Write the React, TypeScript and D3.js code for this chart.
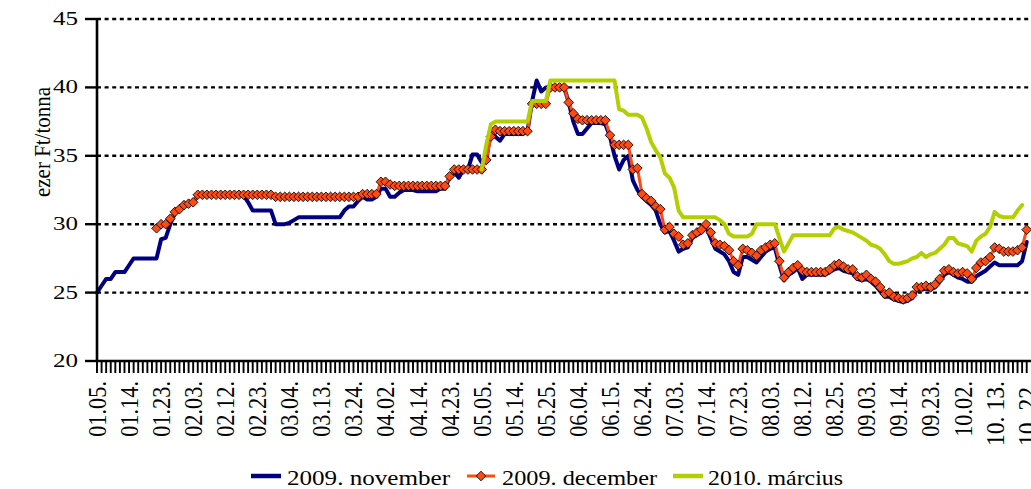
import React from "react";
import * as d3 from "d3";

// Trading-day series (index 0 = 01.05.), values in ezer Ft/tonna
const novValues: number[] = [
  25.0, 25.5, 26.0, 26.0, 26.5, 26.5, 26.5, 27.0, 27.5, 27.5,
  27.5, 27.5, 27.5, 27.5, 28.9, 29.0, 30.0, 30.8, 31.1, 31.4,
  31.5, 31.6, 32.1, 32.1, 32.1, 32.1, 32.1, 32.1, 32.1, 32.1,
  32.1, 32.1, 32.1, 31.6, 31.0, 31.0, 31.0, 31.0, 31.0, 30.0,
  30.0, 30.0, 30.1, 30.3, 30.5, 30.5, 30.5, 30.5, 30.5, 30.5,
  30.5, 30.5, 30.5, 30.5, 31.0, 31.3, 31.3, 31.7, 32.0, 31.8,
  31.8, 32.0, 32.6, 32.6, 32.0, 32.0, 32.3, 32.5, 32.5, 32.5,
  32.4, 32.4, 32.4, 32.4, 32.4, 32.6, 32.6, 33.5, 33.8, 33.4,
  34.0, 34.0, 35.1, 35.1, 34.5, 34.6, 37.0, 36.4, 36.1, 36.6,
  36.6, 36.6, 36.6, 36.6, 36.8, 39.0, 40.5, 39.7, 40.0, 40.0,
  40.0, 40.0, 40.0, 38.9, 37.5, 36.6, 36.6, 37.0, 37.4, 37.4,
  37.4, 37.3, 36.4, 35.0, 34.0, 34.7, 35.0, 33.2, 32.5, 32.0,
  31.7, 31.4, 31.0, 30.0, 29.4, 29.5, 28.8, 28.0, 28.2, 28.3,
  29.0, 29.2, 29.4, 29.8, 29.0, 28.2, 28.0, 27.8, 27.3, 26.5,
  26.3, 27.6, 27.6, 27.4, 27.2, 27.6, 28.0, 28.2, 28.3, 27.0,
  25.9, 26.3, 26.5, 26.8, 26.0, 26.3, 26.3, 26.3, 26.3, 26.3,
  26.5, 26.7, 26.8, 26.6, 26.5, 26.4, 26.0, 25.9, 26.0, 25.8,
  25.5, 25.1, 24.7, 24.7, 24.5, 24.4, 24.3, 24.4, 24.6, 25.2,
  25.2, 25.3, 25.2, 25.4, 25.8, 26.3, 26.5, 26.3, 26.1, 26.0,
  25.8, 25.8, 26.2, 26.4, 26.6, 26.9, 27.2, 27.0, 27.0, 27.0,
  27.0, 27.0, 27.3, 28.7,
];

const decStart = 13;
const decValues: number[] = [
  29.7, 30.0, 30.0, 30.4, 30.9, 31.1, 31.4,
  31.5, 31.6, 32.15, 32.15, 32.15, 32.15, 32.15, 32.15, 32.15, 32.15,
  32.15, 32.15, 32.15, 32.15, 32.15, 32.15, 32.15, 32.15, 32.15, 32.0,
  32.0, 32.0, 32.0, 32.0, 32.0, 32.0, 32.0, 32.0, 32.0, 32.0,
  32.0, 32.0, 32.0, 32.0, 32.0, 32.0, 32.0, 32.0, 32.2, 32.2,
  32.2, 32.2, 33.1, 33.1, 32.9, 32.8, 32.8, 32.8, 32.8, 32.8,
  32.8, 32.8, 32.8, 32.8, 32.8, 32.8, 32.8, 33.5, 34.0, 34.0,
  34.0, 34.0, 34.0, 34.0, 34.0, 34.7, 36.4, 36.9, 36.8, 36.8,
  36.8, 36.8, 36.8, 36.8, 36.8, 38.8, 38.8, 38.8, 38.8, 40.0,
  40.0, 40.0, 40.0, 38.9, 38.1, 37.7, 37.6, 37.6, 37.6, 37.6,
  37.6, 37.6, 36.5, 35.8, 35.8, 35.8, 35.8, 34.0, 34.1, 32.2,
  31.9, 31.7, 31.3, 31.1, 29.6, 29.8, 29.3, 29.1, 28.5, 28.6,
  29.2, 29.4, 29.6, 30.0, 29.4, 28.6, 28.5, 28.4, 28.1, 27.3,
  27.0, 28.2, 28.1, 27.9, 27.7, 28.1, 28.3, 28.5, 28.6, 27.3,
  26.1, 26.5, 26.8, 27.0, 26.6, 26.5, 26.5, 26.5, 26.5, 26.5,
  26.7, 27.0, 27.1, 26.9, 26.7, 26.7, 26.2, 26.1, 26.3, 26.0,
  25.8, 25.4, 24.9, 25.0, 24.7, 24.6, 24.5, 24.6, 24.8, 25.4,
  25.4, 25.5, 25.4, 25.6, 26.0, 26.6, 26.7, 26.5, 26.4, 26.5,
  26.4, 26.0, 26.8, 27.2, 27.3, 27.6, 28.3, 28.2, 28.0, 28.0,
  28.0, 28.1, 28.3, 29.6,
];

const marStart = 84;
const marValues: number[] = [
  34.0, 35.8, 37.3, 37.5, 37.5, 37.5,
  37.5, 37.5, 37.5, 37.5, 37.5, 39.0, 39.0, 39.0, 39.0, 40.5,
  40.5, 40.5, 40.5, 40.5, 40.5, 40.5, 40.5, 40.5, 40.5, 40.5,
  40.5, 40.5, 40.5, 40.5, 38.4, 38.3, 38.0, 38.0, 38.0, 37.8,
  37.0, 36.0, 35.4, 34.9, 33.7, 33.4, 32.7, 31.0, 30.5, 30.5,
  30.5, 30.5, 30.5, 30.5, 30.5, 30.5, 30.3, 30.0, 29.3, 29.1,
  29.1, 29.1, 29.1, 29.3, 30.0, 30.0, 30.0, 30.0, 30.0, 29.0,
  28.0, 28.6, 29.2, 29.2, 29.2, 29.2, 29.2, 29.2, 29.2, 29.2,
  29.2, 29.7, 29.8, 29.6, 29.5, 29.4, 29.2, 29.0, 28.8, 28.5,
  28.4, 28.2, 27.8, 27.3, 27.1, 27.1, 27.2, 27.3, 27.5, 27.6,
  27.9, 27.6, 27.8, 27.9, 28.2, 28.5, 29.0, 29.0, 28.6, 28.5,
  28.4, 28.0, 28.8, 29.1, 29.3, 29.8, 30.9, 30.6, 30.5, 30.5,
  30.5, 31.0, 31.4,
];

const tickLabels: string[] = [
  "01.05.", "01.14.", "01.23.", "02.03.", "02.12.", "02.23.", "03.04.", "03.13.",
  "03.24.", "04.02.", "04.14.", "04.23.", "05.05.", "05.14.", "05.25.", "06.04.",
  "06.15.", "06.24.", "07.03.", "07.14.", "07.23.", "08.03.", "08.12.", "08.25.",
  "09.03.", "09.14.", "09.23.", "10.02.", "10. 13.", "10. 22.",
];
const labelStep = 7;
const yTicks: number[] = [20, 25, 30, 35, 40, 45];
const gridValues: number[] = [25, 30, 35, 40, 45];

const seriesNames = ["2009. november", "2009. december", "2010. március"];
const seriesColors = ["#000080", "#ff4a12", "#b3cf00"];

type Pt = { i: number; v: number };

export default function App() {
  const W = 1031;
  const H = 489;
  const left = 97;
  const right = 1031;
  const top = 19;
  const bottom = 361;
  const nPts = novValues.length;

  const x = d3.scaleLinear().domain([0, nPts - 1]).range([left, 1026.7]);
  const y = d3.scaleLinear().domain([20, 45]).range([bottom, top]);

  const nov: Pt[] = novValues.map((v, i) => ({ i, v }));
  const dec: Pt[] = decValues.map((v, k) => ({ i: k + decStart, v }));
  const mar: Pt[] = marValues.map((v, k) => ({ i: k + marStart, v }));

  const line = d3
    .line<Pt>()
    .x((d) => x(d.i))
    .y((d) => y(d.v));

  const diamond = d3.symbol(d3.symbolSquare, 6.8 * 6.8)() as string;
  const font = "'Liberation Serif', 'Times New Roman', Times, serif";

  const catTicks = d3.range(nPts);

  return (
    <svg
      width={W}
      height={H}
      style={{ position: "absolute", left: 0, top: 0, background: "#fff", fontFamily: font }}
    >
      <rect x={0} y={0} width={W} height={H} fill="#fff" />
      {/* grid lines */}
      {gridValues.map((g) => (
        <line
          key={"g" + g}
          x1={left}
          x2={right}
          y1={y(g)}
          y2={y(g)}
          stroke="#000"
          strokeWidth={2.4}
          strokeDasharray="4 3.6"
        />
      ))}
      {/* series */}
      <path d={line(nov) || ""} fill="none" stroke={seriesColors[0]} strokeWidth={4} strokeLinejoin="round" strokeLinecap="round" />
      <path d={line(dec) || ""} fill="none" stroke={seriesColors[1]} strokeWidth={3} strokeLinejoin="round" strokeLinecap="round" />
      {dec.map((d) => (
        <path
          key={"m" + d.i}
          d={diamond}
          transform={`translate(${x(d.i)},${y(d.v)}) rotate(45)`}
          fill={seriesColors[1]}
          stroke="#000"
          strokeWidth={0.8}
        />
      ))}
      <path d={line(mar) || ""} fill="none" stroke={seriesColors[2]} strokeWidth={4} strokeLinejoin="round" strokeLinecap="round" />

      {/* axes */}
      <line x1={left} x2={left} y1={top} y2={bottom + 1} stroke="#000" strokeWidth={2.6} />
      <line x1={left - 1} x2={right} y1={bottom} y2={bottom} stroke="#000" strokeWidth={2.6} />
      {yTicks.map((t) => (
        <g key={"yt" + t}>
          <line x1={85} x2={left} y1={y(t)} y2={y(t)} stroke="#000" strokeWidth={2.4} />
          <text
            x={78}
            y={y(t)}
            textAnchor="end"
            dominantBaseline="central"
            fontSize={18}
            textLength={25}
            lengthAdjust="spacingAndGlyphs"
            fill="#000"
          >
            {t}
          </text>
        </g>
      ))}
      {catTicks.map((i) => (
        <line
          key={"xt" + i}
          x1={x(i)}
          x2={x(i)}
          y1={bottom}
          y2={bottom + 12}
          stroke="#000"
          strokeWidth={1.9}
        />
      ))}
      {tickLabels.map((lab, k) => (
        <text
          key={"xl" + k}
          transform={`translate(${x(k * labelStep)},381) scale(1.3,1) rotate(-90)`}
          textAnchor="end"
          dominantBaseline="central"
          fontSize={20}
          textLength={lab.length * 9.3}
          lengthAdjust="spacingAndGlyphs"
          fill="#000"
        >
          {lab}
        </text>
      ))}

      {/* y title */}
      <text
        transform="translate(50,142) scale(1.2,1) rotate(-90)"
        textAnchor="middle"
        fontSize={20}
        textLength={110}
        lengthAdjust="spacingAndGlyphs"
        fill="#000"
      >
        ezer Ft/tonna
      </text>

      {/* legend */}
      <g>
        <line x1={251} x2={281} y1={476} y2={476} stroke={seriesColors[0]} strokeWidth={4.5} />
        <text x={287} y={485} fontSize={22} textLength={163} lengthAdjust="spacingAndGlyphs" fill="#000">
          {seriesNames[0]}
        </text>
        <line x1={467} x2={495} y1={476} y2={476} stroke={seriesColors[1]} strokeWidth={3} />
        <path d={diamond} transform="translate(481,476) rotate(45)" fill={seriesColors[1]} stroke="#000" strokeWidth={0.8} />
        <text x={502} y={485} fontSize={22} textLength={155} lengthAdjust="spacingAndGlyphs" fill="#000">
          {seriesNames[1]}
        </text>
        <line x1={673} x2={703} y1={476} y2={476} stroke={seriesColors[2]} strokeWidth={4.5} />
        <text x={708} y={485} fontSize={22} textLength={135} lengthAdjust="spacingAndGlyphs" fill="#000">
          {seriesNames[2]}
        </text>
      </g>
    </svg>
  );
}
